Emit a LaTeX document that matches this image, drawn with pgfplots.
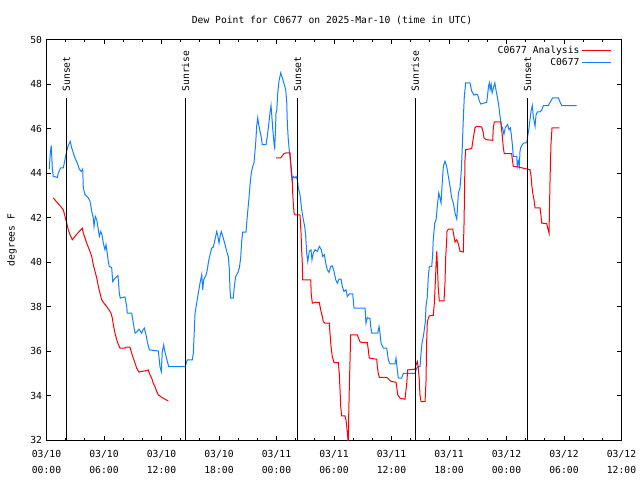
\documentclass[border=0pt]{standalone}
\usepackage{fontspec}
\setmainfont{DejaVu Sans Mono}
\usepackage{pgfplots}
\usepackage{pgfplotstable}
\pgfplotsset{compat=1.18}
\definecolor{obsblue}{RGB}{16,128,255}
\definecolor{anred}{RGB}{255,0,0}

\pgfplotstableread{
h v
0.29 44.18
0.40 44.93
0.50 45.23
0.61 44.18
0.71 43.85
1.13 43.80
1.23 44.00
1.48 44.23
1.75 44.23
1.86 44.45
1.96 44.68
2.11 44.98
2.24 45.20
2.48 45.42
2.63 45.13
2.80 44.90
2.97 44.68
3.21 44.45
3.42 44.18
3.63 44.07
3.78 44.18
3.84 43.33
4.02 43.03
4.36 42.88
4.54 42.73
4.72 42.28
4.88 41.98
4.96 41.60
5.09 42.05
5.24 41.90
5.41 41.45
5.51 41.15
5.66 41.37
5.79 41.22
5.93 40.85
6.10 40.55
6.21 40.78
6.34 40.40
6.45 40.02
6.55 39.80
6.80 39.75
6.91 39.12
7.15 39.27
7.46 39.39
7.60 38.60
7.70 38.38
8.19 38.43
8.37 38.00
8.43 37.70
8.89 37.70
9.06 37.25
9.24 36.80
9.48 36.88
9.65 36.98
9.93 36.80
10.10 36.98
10.21 37.03
10.38 36.73
10.52 36.42
10.73 36.05
11.67 36.00
11.84 35.30
11.98 35.07
12.08 35.97
12.23 36.28
12.29 36.10
12.44 35.83
12.61 35.53
12.75 35.30
14.48 35.30
14.56 35.42
14.69 35.60
15.21 35.60
15.32 35.90
15.39 36.58
15.50 37.70
15.67 38.15
15.84 38.60
16.02 39.05
16.20 39.43
16.30 38.75
16.40 39.20
16.64 39.40
16.78 39.65
16.88 39.95
17.06 40.33
17.24 40.63
17.41 40.67
17.58 41.00
17.76 41.37
17.86 41.22
18.00 40.85
18.11 41.15
18.24 41.37
18.45 41.07
18.63 40.78
18.80 40.48
18.97 40.25
19.07 39.73
19.15 38.75
19.22 38.38
19.49 38.38
19.60 38.90
19.74 39.35
19.95 39.50
20.12 39.73
20.26 40.18
20.37 40.93
20.47 41.34
20.82 41.34
20.89 41.75
21.00 42.28
21.13 42.88
21.24 43.48
21.37 44.00
21.52 44.30
21.65 44.45
21.83 45.35
21.93 46.10
22.04 46.48
22.14 46.18
22.28 45.87
22.39 45.65
22.52 45.28
22.91 45.28
23.04 45.65
23.19 46.18
23.32 46.70
23.43 47.03
23.50 46.63
23.60 46.03
23.74 45.35
23.81 45.05
23.88 45.80
23.95 46.70
24.02 46.78
24.13 47.60
24.26 48.13
24.44 48.50
24.61 48.28
24.81 47.98
24.96 47.75
25.07 47.15
25.13 46.25
25.23 45.50
25.34 44.98
25.48 44.45
25.55 43.93
25.65 43.63
25.75 43.85
25.93 43.78
26.04 43.85
26.17 43.70
26.28 43.33
26.45 43.03
26.63 42.35
26.80 41.90
26.94 41.60
27.05 41.15
27.15 40.40
27.26 40.02
27.42 40.48
27.60 40.55
27.70 40.10
27.84 40.40
28.02 40.55
28.26 40.48
28.47 40.70
28.68 40.55
28.82 40.25
28.99 40.33
29.17 39.88
29.30 39.65
29.48 39.53
29.66 39.80
29.82 39.83
30.00 39.58
30.18 39.20
30.35 39.05
30.52 39.23
30.73 39.23
30.87 38.90
31.04 38.68
31.25 38.75
31.39 38.45
31.60 38.57
31.95 38.57
32.09 37.93
33.24 37.93
33.34 37.25
33.48 37.50
33.76 37.45
33.83 37.10
33.94 36.80
34.56 36.80
34.70 37.10
34.80 36.80
34.91 36.35
35.15 36.13
35.50 36.13
35.67 35.60
35.84 35.42
36.37 35.42
36.47 35.68
36.54 35.40
36.71 34.78
37.07 34.78
37.23 35.00
38.45 35.00
38.63 35.23
38.80 35.30
38.98 35.30
39.08 35.90
39.18 36.35
39.32 36.65
39.42 36.95
39.53 37.32
39.60 38.00
39.74 38.45
39.84 39.35
39.95 39.80
40.20 39.80
40.30 40.40
40.36 41.00
40.51 41.75
40.65 41.90
40.78 42.50
40.93 43.10
41.06 42.88
41.17 42.65
41.27 43.40
41.41 44.30
41.58 44.53
41.76 44.30
41.93 43.85
42.11 43.40
42.28 42.88
42.45 42.65
42.63 42.20
42.81 41.93
42.98 43.10
43.15 43.33
43.29 44.15
43.39 45.20
43.49 46.40
43.60 47.45
43.74 48.05
44.19 48.05
44.37 47.68
44.61 47.50
44.89 47.55
45.00 47.50
45.17 47.23
45.32 47.10
45.94 47.18
46.05 47.60
46.12 47.90
46.22 48.05
46.29 47.75
46.40 47.98
46.50 47.60
46.64 47.83
46.78 48.05
46.92 47.68
47.06 47.38
47.20 47.00
47.34 46.50
47.48 46.10
47.59 46.03
47.73 45.73
47.87 46.03
48.11 46.18
48.26 45.95
48.40 46.03
48.50 45.73
48.61 45.28
48.71 44.75
49.07 44.75
49.13 44.30
49.23 44.53
49.34 44.30
49.41 44.98
49.48 45.13
49.65 45.28
49.83 45.35
50.11 45.35
50.21 45.65
50.35 46.03
50.45 46.40
50.56 46.78
50.69 47.03
50.80 46.52
50.90 46.30
50.98 46.10
51.08 46.60
51.22 46.75
51.50 46.75
51.67 46.82
51.84 47.03
52.36 47.03
52.61 47.23
52.82 47.38
53.41 47.38
53.58 47.20
53.76 47.03
55.33 47.03
}\obsdata

\pgfplotstableread{
h v
0.71 42.88
1.06 42.70
1.41 42.53
1.75 42.35
1.93 42.05
2.11 41.75
2.27 41.45
2.45 41.23
2.69 41.00
2.97 41.15
3.32 41.33
3.74 41.52
3.84 41.30
4.02 41.08
4.19 40.85
4.47 40.55
4.72 40.25
4.88 39.88
5.06 39.58
5.24 39.28
5.41 38.90
5.58 38.60
5.76 38.30
6.00 38.15
6.28 38.00
6.52 37.85
6.73 37.70
6.87 37.48
6.97 37.18
7.15 36.80
7.33 36.50
7.49 36.30
7.67 36.13
8.19 36.13
8.30 36.17
8.71 36.17
8.89 35.90
9.06 35.68
9.24 35.45
9.41 35.23
9.65 35.05
9.93 35.08
10.46 35.12
10.62 35.15
10.80 34.93
10.98 34.78
11.14 34.55
11.32 34.40
11.50 34.18
11.67 34.03
12.02 33.92
12.37 33.83
12.71 33.76
}\anadataA

\pgfplotstableread{
h v
23.95 44.68
24.44 44.68
24.65 44.80
24.78 44.87
24.99 44.90
25.41 44.90
25.48 44.45
25.59 44.00
25.65 43.55
25.69 43.10
25.75 42.65
25.83 42.20
25.93 42.12
26.45 42.12
26.56 41.30
26.63 40.50
26.69 39.95
26.73 39.20
27.57 39.20
27.63 38.53
27.74 38.15
28.02 38.18
28.47 38.18
28.61 37.85
28.78 37.55
28.88 37.32
29.06 37.25
29.51 37.25
29.58 36.80
29.69 36.20
29.82 35.75
30.00 35.48
30.45 35.48
30.55 35.00
30.63 34.25
30.70 33.50
30.80 33.08
31.15 33.08
31.25 32.90
31.33 32.60
31.43 32.15
31.49 31.80
31.54 33.20
31.60 34.40
31.67 35.53
31.74 36.73
32.43 36.73
32.54 36.60
32.71 36.42
32.89 36.38
33.48 36.38
33.58 36.05
33.68 35.68
34.46 35.63
34.52 35.30
34.62 35.00
34.73 34.82
35.50 34.82
35.67 34.75
35.95 34.63
36.47 34.60
36.54 34.40
36.65 34.03
36.89 33.88
37.41 33.83
37.59 34.55
37.69 35.15
38.45 35.18
38.56 35.38
38.69 35.53
38.80 35.23
38.90 34.70
38.97 34.03
39.08 33.73
39.50 33.73
39.60 34.63
39.67 36.42
39.74 37.32
39.94 37.58
40.36 37.60
40.47 38.15
40.57 39.05
40.65 39.88
40.72 40.48
40.78 39.95
40.88 38.83
40.99 38.25
41.48 38.25
41.58 39.05
41.66 40.25
41.76 41.00
41.79 41.37
41.93 41.48
42.39 41.48
42.52 41.15
42.63 40.90
42.80 41.00
42.91 40.90
43.01 40.75
43.15 40.48
43.49 40.45
43.57 41.75
43.67 44.60
43.74 45.05
44.37 45.10
44.54 45.58
44.71 46.03
44.89 46.10
45.41 46.07
45.58 45.80
45.65 45.58
45.86 45.50
46.56 45.47
46.62 46.00
46.73 46.30
47.40 46.30
47.53 45.80
47.67 45.13
47.77 44.87
48.54 44.87
48.61 44.60
48.71 44.30
49.23 44.27
50.11 44.18
50.45 44.15
50.56 43.88
50.63 43.48
50.74 43.10
50.87 42.80
50.98 42.43
51.50 42.43
51.60 42.08
51.67 41.75
52.20 41.72
52.30 41.52
52.44 41.30
52.47 42.05
52.54 43.63
52.64 45.28
52.75 46.03
53.51 46.03
}\anadataB

\begin{document}
\begin{tikzpicture}[x=1pt,y=1pt]
\useasboundingbox (0,0) rectangle (640,480);
\begin{axis}[
  at={(46.5pt,40pt)}, anchor=south west,
  scale only axis, width=575pt, height=400.5pt,
  xmin=0, xmax=60, ymin=32, ymax=50,
  axis line style={line width=1pt},
  tick style={line width=1pt, black},
  tick align=inside,
  major tick length=4.5pt, minor tick length=2.5pt,
  xtick={0,6,...,60}, minor x tick num=2,
  ytick={32,34,...,50},
  xticklabels={{03/10\\00:00},{03/10\\06:00},{03/10\\12:00},{03/10\\18:00},{03/11\\00:00},{03/11\\06:00},{03/11\\12:00},{03/11\\18:00},{03/12\\00:00},{03/12\\06:00},{03/12\\12:00}},
  xticklabel style={align=center, font=\fontsize{9.7}{16}\selectfont, yshift=-7pt},
  yticklabel style={font=\fontsize{9.7}{12}\selectfont, xshift=-1pt},
  /pgf/number format/assume math mode=true,
  clip=true,
  legend plot pos=right,
  legend cell align=right,
  legend image code/.code={\draw[#1] (0pt,0pt) -- (29pt,0pt);},
  legend style={draw=none, fill=none, at={(1,1)}, anchor=north east,
    xshift=-10pt, yshift=-5pt, inner sep=0pt, row sep=-0.5pt,
    font=\fontsize{9.7}{12}\selectfont,
    nodes={inner sep=1.8pt}},
]
\addplot[anred, line width=1pt] table[x=h,y=v] {\anadataA};
\addlegendentry{C0677 Analysis}
\addplot[obsblue, line width=1pt] table[x=h,y=v] {\obsdata};
\addlegendentry{C0677}
\addplot[anred, line width=1pt, forget plot] table[x=h,y=v] {\anadataB};
\foreach \t/\lab in {2.07/Sunset,14.50/Sunrise,26.19/Sunset,38.48/Sunrise,50.19/Sunset}{
  \edef\temp{\noexpand\draw[black, line width=1pt] (axis cs:\t,47.35) -- (axis cs:\t,32);
    \noexpand\node[rotate=90, anchor=west, inner sep=0pt, font=\noexpand\fontsize{9.7}{12}\noexpand\selectfont] at (axis cs:\t,47.66) {\lab};}
  \temp
}
\end{axis}
\node[font=\fontsize{9.7}{12}\selectfont] at (332,460) {Dew Point for C0677 on 2025-Mar-10 (time in UTC)};
\node[rotate=90, font=\fontsize{9.7}{12}\selectfont] at (12,240) {degrees F};
\end{tikzpicture}
\end{document}
